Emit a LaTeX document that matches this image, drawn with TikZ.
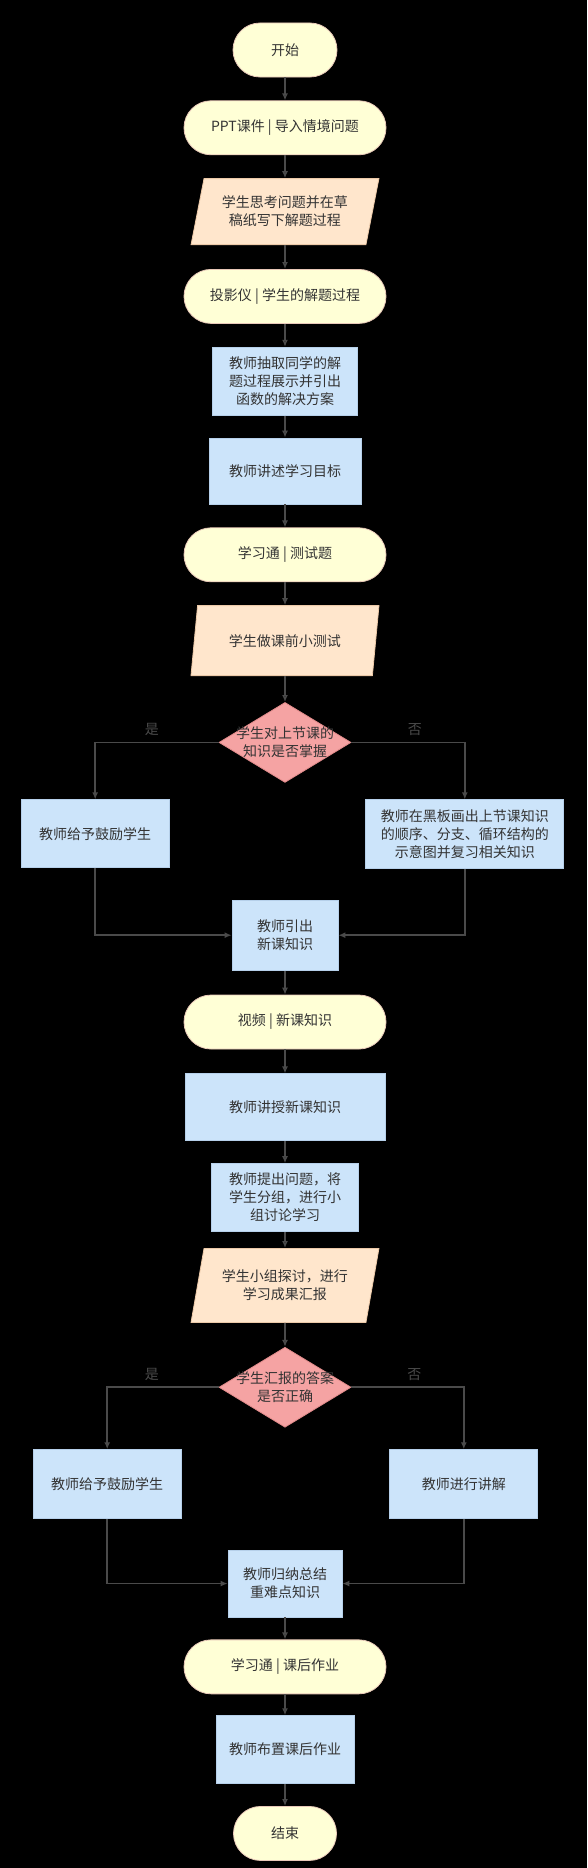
\documentclass[tikz,border=0pt]{standalone}
\usepackage{fontspec}
\setmainfont{Noto Sans CJK SC}
\usetikzlibrary{positioning}
\usetikzlibrary{shapes.geometric}
\usetikzlibrary{arrows.meta}
\definecolor{termfill}{HTML}{FFFFD6}
\definecolor{termline}{HTML}{E8C8B8}
\definecolor{iofill}{HTML}{FFE6CC}
\definecolor{ioline}{HTML}{ECC9A8}
\definecolor{actfill}{HTML}{CCE4FA}
\definecolor{actline}{HTML}{B6D0EA}
\definecolor{testfill}{HTML}{F5A3A3}
\definecolor{testline}{HTML}{E08A8A}
\definecolor{textgray}{HTML}{333333}
\definecolor{linegray}{HTML}{4A4A4A}
\tikzset{base node/.style={font=\fontsize{14}{18}\selectfont, text=textgray, align=center, inner sep=0pt, line width=0.8pt},
  term node/.style={base node, rectangle, rounded corners=27pt, draw=termline, fill=termfill, minimum width=104pt, minimum height=54pt},
  tool node/.style={base node, rectangle, rounded corners=27pt, draw=termline, fill=termfill, minimum width=202pt, minimum height=54pt},
  io node/.style={base node, trapezium, trapezium left angle=72, trapezium right angle=108, trapezium stretches=true, draw=ioline, fill=iofill, minimum width=188pt, minimum height=66pt},
  act node/.style={base node, rectangle, draw=actline, fill=actfill, minimum height=68pt},
  test node/.style={base node, diamond, draw=testline, fill=testfill, minimum width=132pt, minimum height=80pt},
  flow/.style={draw=linegray, line width=1.6pt, -{Latex[length=7pt,width=6pt]}},
  branch label/.style={font=\fontsize{14}{18}\selectfont, text=linegray, inner sep=0pt, above=6pt},}

\begin{document}
\begin{tikzpicture}[x=1pt,y=-1pt]
   \useasboundingbox (0,0) rectangle (587,1868);
   \fill[black] (0,0) rectangle (587,1868);

   \node[term node] (s) at (285,50) {开始};
   \node[tool node] (p1) [below=23pt of s] {PPT课件 | 导入情境问题};
   \node[io node] (i1) [below=23pt of p1] {学生思考问题并在草\\稿纸写下解题过程};
   \node[tool node] (p2) [below=24pt of i1] {投影仪 | 学生的解题过程};
   \node[act node, minimum width=145pt] (a1) [below=23pt of p2] {教师抽取同学的解\\题过程展示并引出\\函数的解决方案};
   \node[act node, minimum width=152pt, minimum height=66pt] (a2) [below=22pt of a1] {教师讲述学习目标};
   \node[tool node] (p3) [below=23pt of a2] {学习通 | 测试题};
   \node[io node, minimum height=70pt] (i2) [below=23pt of p3] {学生做课前小测试};
   \node[test node] (d1) [below=26pt of i2] {};
   \node[base node] (d1t) at (d1) {学生对上节课的\\知识是否掌握};
   \node[act node, minimum width=148pt] (b1) [below left=57pt and 49pt of d1.west] {教师给予鼓励学生};
   \node[act node, minimum width=198pt, minimum height=69pt] (b2) [below right=57pt and 14pt of d1.east] {教师在黑板画出上节课知识\\的顺序、分支、循环结构的\\示意图并复习相关知识};
   \node[act node, minimum width=106pt, minimum height=70pt] (m1) [below=117pt of d1] {教师引出\\新课知识};
   \node[tool node] (p4) [below=24pt of m1] {视频 | 新课知识};
   \node[act node, minimum width=200pt, minimum height=67pt] (a3) [below=24pt of p4] {教师讲授新课知识};
   \node[act node, minimum width=147pt] (a4) [below=22pt of a3] {教师提出问题，将\\学生分组，进行小\\组讨论学习};
   \node[io node, minimum height=74pt] (i3) [below=16pt of a4] {学生小组探讨，进行\\学习成果汇报};
   \node[test node] (d2) [below=24pt of i3] {};
   \node[base node] (d2t) at (d2) {学生汇报的答案\\是否正确};
   \node[act node, minimum width=148pt, minimum height=69pt] (b3) [below left=62pt and 37pt of d2.west] {教师给予鼓励学生};
   \node[act node, minimum width=148pt, minimum height=69pt] (b4) [below right=62pt and 38pt of d2.east] {教师进行讲解};
   \node[act node, minimum width=114pt, minimum height=67pt] (m2) [below=122pt of d2] {教师归纳总结\\重难点知识};
   \node[tool node] (p5) [below=22pt of m2] {学习通 | 课后作业};
   \node[act node, minimum width=138pt] (a5) [below=21pt of p5] {教师布置课后作业};
   \node[term node, minimum width=103pt] (e) [below=22pt of a5] {结束};

   \path[flow]
   (s) edge (p1)
   (p1) edge (i1)
   (i1) edge (p2)
   (p2) edge (a1)
   (a1) edge (a2)
   (a2) edge (p3)
   (p3) edge (i2)
   (i2) edge (d1)
   (m1) edge (p4)
   (p4) edge (a3)
   (a3) edge (a4)
   (a4) edge (i3)
   (i3) edge (d2)
   (m2) edge (p5)
   (p5) edge (a5)
   (a5) edge (e);

   % first test
   \draw[flow] (d1.west) -| node[branch label, pos=0.27] {是} (b1.north);
   \draw[flow] (d1.east) -| node[branch label, pos=0.28] {否} (b2.north);
   \draw[flow] (b1.south) |- (m1.west);
   \draw[flow] (b2.south) |- (m1.east);

   % second test
   \draw[flow] (d2.west) -| node[branch label, pos=0.3] {是} (b3.north);
   \draw[flow] (d2.east) -| node[branch label, pos=0.28] {否} (b4.north);
   \draw[flow] (b3.south) |- (m2.west);
   \draw[flow] (b4.south) |- (m2.east);
\end{tikzpicture}
\end{document}
